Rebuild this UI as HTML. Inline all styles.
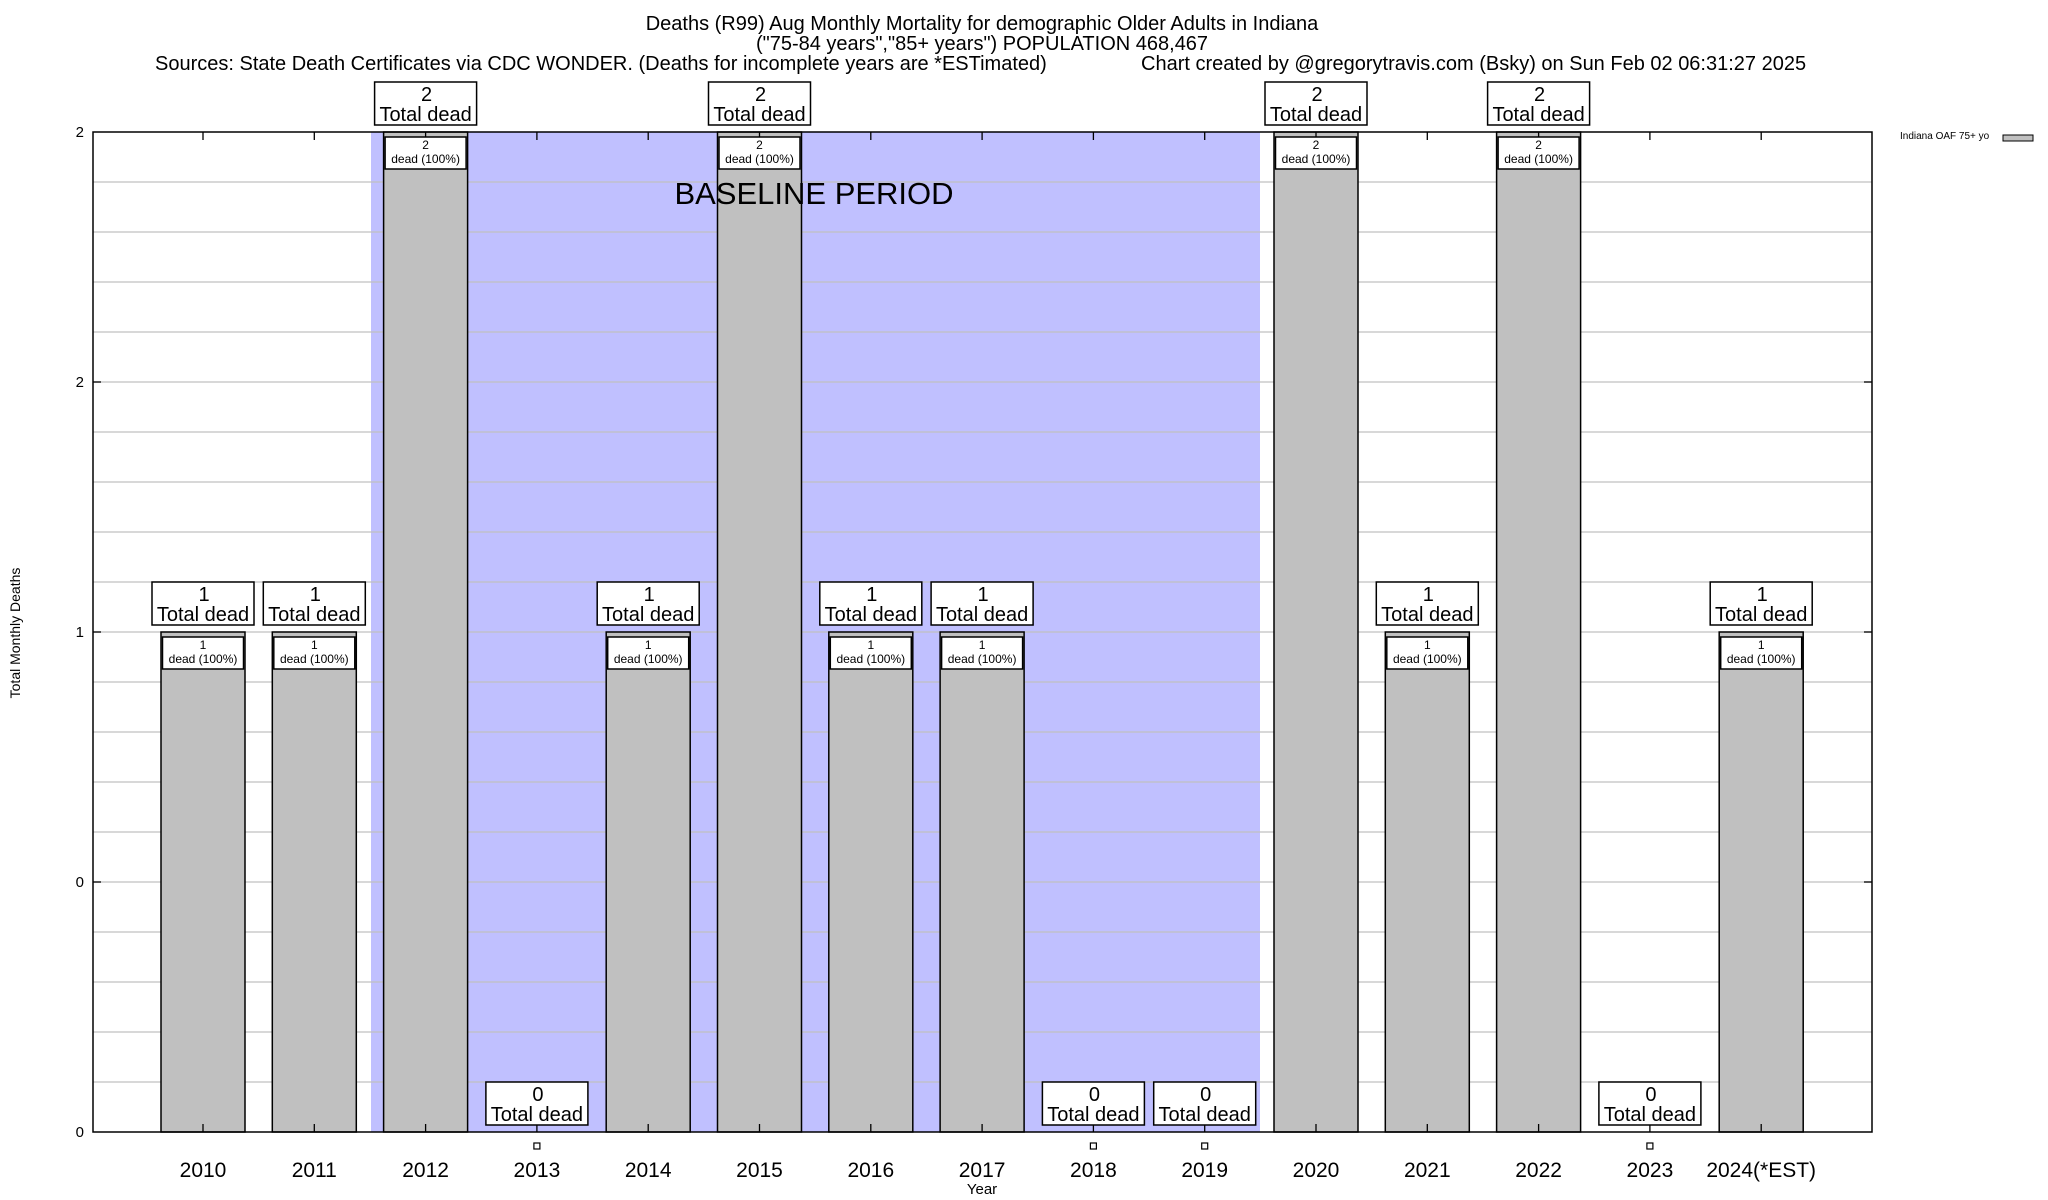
<!DOCTYPE html>
<html><head><meta charset="utf-8"><style>
html,body{margin:0;padding:0;background:#fff;}
svg{display:block;font-family:"Liberation Sans",Arial,sans-serif;}
</style></head><body>
<svg width="2048" height="1200" viewBox="0 0 2048 1200" xmlns="http://www.w3.org/2000/svg">
<rect width="2048" height="1200" fill="#fff"/>
<text x="982" y="30" font-size="20" text-anchor="middle">Deaths (R99) Aug Monthly Mortality for demographic Older Adults in Indiana</text>
<text x="982" y="50" font-size="20" text-anchor="middle">("75-84 years","85+ years") POPULATION 468,467</text>
<text x="155" y="70" font-size="20">Sources: State Death Certificates via CDC WONDER. (Deaths for incomplete years are *ESTimated)</text>
<text x="1141" y="70" font-size="20">Chart created by @gregorytravis.com (Bsky) on Sun Feb 02 06:31:27 2025</text>
<rect x="371" y="132" width="889" height="1000" fill="#c0c0ff"/>
<g stroke="#c0c0c0" stroke-width="1.3">
<line x1="93" x2="1872" y1="182" y2="182"/><line x1="93" x2="1872" y1="232" y2="232"/><line x1="93" x2="1872" y1="282" y2="282"/><line x1="93" x2="1872" y1="332" y2="332"/><line x1="93" x2="1872" y1="382" y2="382"/><line x1="93" x2="1872" y1="432" y2="432"/><line x1="93" x2="1872" y1="482" y2="482"/><line x1="93" x2="1872" y1="532" y2="532"/><line x1="93" x2="1872" y1="582" y2="582"/><line x1="93" x2="1872" y1="632" y2="632"/><line x1="93" x2="1872" y1="682" y2="682"/><line x1="93" x2="1872" y1="732" y2="732"/><line x1="93" x2="1872" y1="782" y2="782"/><line x1="93" x2="1872" y1="832" y2="832"/><line x1="93" x2="1872" y1="882" y2="882"/><line x1="93" x2="1872" y1="932" y2="932"/><line x1="93" x2="1872" y1="982" y2="982"/><line x1="93" x2="1872" y1="1032" y2="1032"/><line x1="93" x2="1872" y1="1082" y2="1082"/>
</g>
<g id="bars" stroke="#000" stroke-width="1.5" fill="#c0c0c0"></g>
<text x="814" y="204" font-size="31" text-anchor="middle">BASELINE PERIOD</text>
<rect x="93" y="132" width="1779" height="1000" fill="none" stroke="#000" stroke-width="1.5"/>
<g font-size="15" text-anchor="end">
<text x="84" y="137">2</text><text x="84" y="387">2</text><text x="84" y="637">1</text><text x="84" y="887">0</text><text x="84" y="1137">0</text>
</g>
<g stroke="#000" stroke-width="1.3">
<line x1="93" x2="101" y1="382" y2="382"/><line x1="93" x2="101" y1="632" y2="632"/><line x1="93" x2="101" y1="882" y2="882"/>
<line x1="1864" x2="1872" y1="382" y2="382"/><line x1="1864" x2="1872" y1="632" y2="632"/><line x1="1864" x2="1872" y1="882" y2="882"/>
</g>
<text transform="translate(20,633) rotate(-90)" font-size="14" text-anchor="middle">Total Monthly Deaths</text>
<text x="982" y="1194" font-size="15" text-anchor="middle">Year</text>
<text x="1900" y="139" font-size="10">Indiana OAF 75+ yo</text>
<rect x="2003" y="135" width="30" height="6" fill="#c0c0c0" stroke="#000" stroke-width="1"/>
<script>
(function(){
var vals=[1,1,2,0,1,2,1,1,0,0,2,1,2,0,1];
var yrs=["2010","2011","2012","2013","2014","2015","2016","2017","2018","2019","2020","2021","2022","2023","2024(*EST)"];
var ns="http://www.w3.org/2000/svg";
var svg=document.querySelector("svg");
function el(t,a,txt){var e=document.createElementNS(ns,t);for(var k in a)e.setAttribute(k,a[k]);if(txt!==undefined)e.textContent=txt;svg.appendChild(e);return e;}
var bars=document.getElementById("bars");
for(var i=0;i<15;i++){
 var c=203+111.3*i,v=vals[i],bty=1132-500*v;
 if(v>0){var r=document.createElementNS(ns,"rect");r.setAttribute("x",c-42);r.setAttribute("y",bty);r.setAttribute("width",84);r.setAttribute("height",1132-bty);bars.appendChild(r);}
}
for(var i=0;i<15;i++){
 var c=203+111.3*i,v=vals[i],bty=1132-500*v;
 el("line",{x1:c,x2:c,y1:132,y2:140,stroke:"#000","stroke-width":1.3});
 el("line",{x1:c,x2:c,y1:1124,y2:1132,stroke:"#000","stroke-width":1.3});
 el("text",{x:c,y:1177,"font-size":21,"text-anchor":"middle"},yrs[i]);
 var bt=bty-50;
 el("rect",{x:c-51,y:bt,width:102,height:43,fill:"#fff",stroke:"#000","stroke-width":1.5});
 el("text",{x:c+1,y:bt+19,"font-size":20,"text-anchor":"middle"},String(v));
 el("text",{x:c,y:bt+39,"font-size":20,"text-anchor":"middle"},"Total dead");
 if(v>0){
  el("rect",{x:c-40.5,y:bty+5,width:81,height:32,fill:"#fff",stroke:"#000","stroke-width":1.5});
  el("text",{x:c,y:bty+17,"font-size":12,"text-anchor":"middle"},String(v));
  el("text",{x:c,y:bty+31,"font-size":12,"text-anchor":"middle"},"dead (100%)");
 } else {
  el("rect",{x:c-3,y:1143,width:6,height:6,fill:"#fff",stroke:"#000","stroke-width":1.2});
 }
}
})();
</script>
</svg>
</body></html>
